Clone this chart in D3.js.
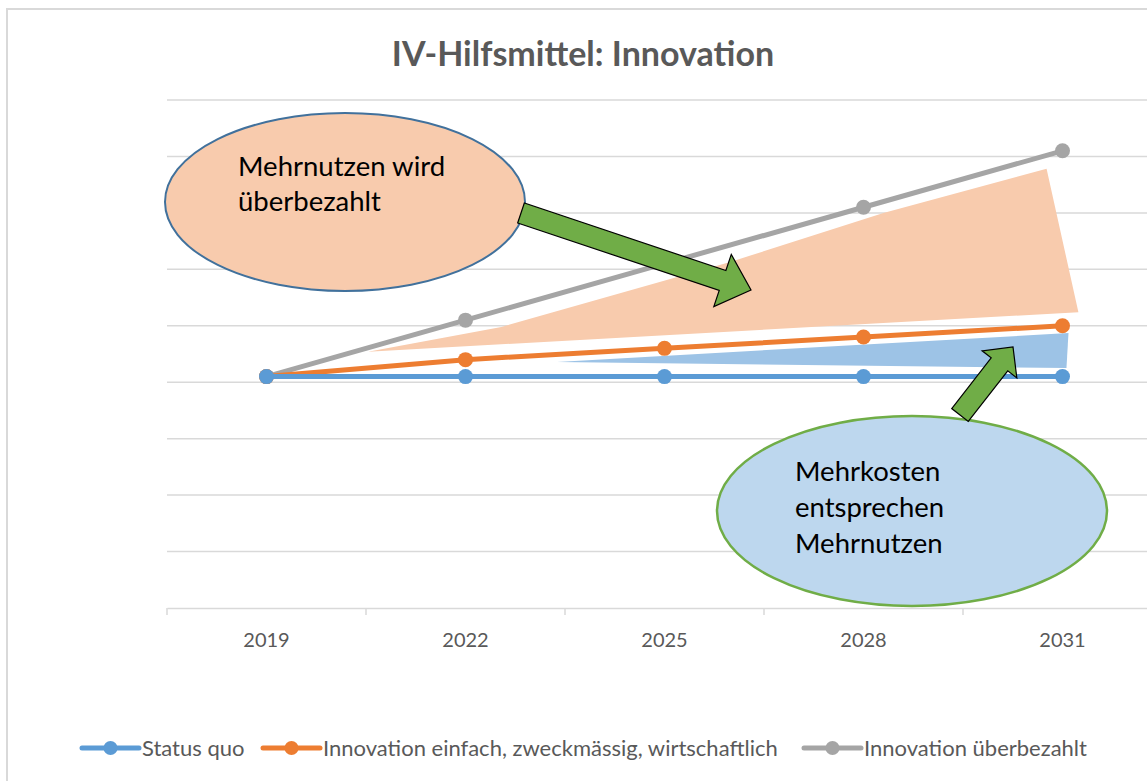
<!DOCTYPE html>
<html>
<head>
	<meta charset="utf-8">
	<title>IV-Hilfsmittel: Innovation</title>
	<script src="https://d3js.org/d3.v7.min.js"></script>
	<style>
		body { margin: 0; background: #fff; }
		svg { display: block; font-family: Lato, "Open Sans", sans-serif; }
	</style>
</head>
<body>
	<svg width="1147" height="781"></svg>
	<script>
		// data
		const years = ["2019", "2022", "2025", "2028", "2031"];
		const statusQuo = [41, 41, 41, 41, 41];
		const einfach = [41, 44, 46, 48, 50];
		const ueberbezahlt = [41, 51, 61, 71, 81];
		const seriesNames = ["Status quo", "Innovation einfach, zweckmässig, wirtschaftlich", "Innovation überbezahlt"];
		const yTicks = [0, 10, 20, 30, 40, 50, 60, 70, 80, 90];

		// shaded wedges, in (year index, value)
		const wedgeOverpaid = [[0.51, 45.4], [1.18, 49.8], [2.33, 61.3], [3.10, 70.0], [3.92, 77.8], [4.08, 52.4]];
		const wedgeFair = [[1.46, 43.6], [4.03, 48.7], [4.02, 42.5]];

		const colors = ["#5B9BD5", "#ED7D31", "#A5A5A5"];
		const values = [statusQuo, einfach, ueberbezahlt];

		const svg = d3.select('svg');
		const plotLeft = 167, plotRight = 1162, plotTop = 100, plotBottom = 608;

		// outer frame
		svg.append('rect')
			.attr('x', 7).attr('y', 9)
			.attr('width', 1300).attr('height', 900)
			.attr('fill', 'none').attr('stroke', '#D9D9D9').attr('stroke-width', 2);

		svg.append('text')
			.attr('x', 583).attr('y', 66)
			.attr('text-anchor', 'middle')
			.attr('font-size', 34).attr('font-weight', 'bold')
			.attr('fill', '#595959')
			.text('IV-Hilfsmittel: Innovation');

		const x = d3.scaleBand().domain(years).range([plotLeft, plotRight]).padding(0);
		const xi = d3.scaleLinear()
			.domain([0, years.length - 1])
			.range([x(years[0]) + x.bandwidth() / 2, x(years[years.length - 1]) + x.bandwidth() / 2]);
		const y = d3.scaleLinear().domain([0, 90]).range([plotBottom, plotTop]);

		// gridlines
		svg.append('g').selectAll('line')
			.data(yTicks.slice(1))
			.enter().append('line')
			.attr('x1', plotLeft).attr('x2', plotRight)
			.attr('y1', d => y(d)).attr('y2', d => y(d))
			.attr('stroke', '#D9D9D9').attr('stroke-width', 1.5);

		// x axis
		const xAxis = svg.append('g')
			.attr('transform', `translate(0,${plotBottom})`)
			.call(d3.axisBottom(x).tickSize(0).tickPadding(25));
		xAxis.select('.domain').attr('stroke', '#D9D9D9').attr('stroke-width', 1.5);
		xAxis.selectAll('text')
			.attr('font-family', 'Lato, sans-serif')
			.attr('font-size', 20).attr('fill', '#595959');
		xAxis.selectAll('.bound')
			.data(d3.range(years.length + 1))
			.enter().append('line')
			.attr('x1', i => plotLeft + i * x.bandwidth()).attr('x2', i => plotLeft + i * x.bandwidth())
			.attr('y1', 0).attr('y2', 7)
			.attr('stroke', '#D9D9D9').attr('stroke-width', 1.5);

		// shaded wedges
		const curve = d3.line().x(d => xi(d[0])).y(d => y(d[1])).curve(d3.curveLinearClosed);
		svg.append('path').attr('d', curve(wedgeOverpaid)).attr('fill', '#F8CBAD');
		svg.append('path').attr('d', curve(wedgeFair)).attr('fill', '#9DC3E6');

		// series lines
		const line = d3.line().x((d, i) => xi(i)).y(d => y(d));
		[2, 1, 0].forEach(s => {
			const g = svg.append('g');
			g.append('path')
				.attr('d', line(values[s]))
				.attr('fill', 'none')
				.attr('stroke', colors[s])
				.attr('stroke-width', 5)
				.attr('stroke-linecap', 'round');
			g.selectAll('circle')
				.data(values[s])
				.enter().append('circle')
				.attr('cx', (d, i) => xi(i))
				.attr('cy', d => y(d))
				.attr('r', 7.5)
				.attr('fill', colors[s]);
		});

		// block arrow helper
		function blockArrow(x1, y1, x2, y2, shaft, head, headLen) {
			const dx = x2 - x1, dy = y2 - y1, L = Math.hypot(dx, dy);
			const ux = dx / L, uy = dy / L, nx = -uy, ny = ux;
			const bx = x2 - ux * headLen, by = y2 - uy * headLen;
			const pts = [
				[x1 + nx * shaft / 2, y1 + ny * shaft / 2],
				[bx + nx * shaft / 2, by + ny * shaft / 2],
				[bx + nx * head / 2, by + ny * head / 2],
				[x2, y2],
				[bx - nx * head / 2, by - ny * head / 2],
				[bx - nx * shaft / 2, by - ny * shaft / 2],
				[x1 - nx * shaft / 2, y1 - ny * shaft / 2]
			];
			return 'M' + pts.map(p => p.join(',')).join('L') + 'Z';
		}

		// ellipse 1
		svg.append('ellipse')
			.attr('cx', 345).attr('cy', 202).attr('rx', 180).attr('ry', 89)
			.attr('fill', '#F8CBAD').attr('stroke', '#41719C').attr('stroke-width', 2);
		svg.append('text')
			.attr('font-size', 27.5).attr('fill', '#000')
			.selectAll('tspan').data(['Mehrnutzen wird', 'überbezahlt'])
			.enter().append('tspan')
			.attr('x', 238).attr('y', (d, i) => 176 + i * 35)
			.text(d => d);

		svg.append('path')
			.attr('d', blockArrow(521, 213, 751, 290, 21, 55, 30))
			.attr('fill', '#70AD47').attr('stroke', '#000').attr('stroke-width', 1.2);

		// ellipse 2
		svg.append('ellipse')
			.attr('cx', 912).attr('cy', 511).attr('rx', 195).attr('ry', 95)
			.attr('fill', '#BDD7EE').attr('stroke', '#70AD47').attr('stroke-width', 2.5);
		svg.append('text')
			.attr('font-size', 27.5).attr('fill', '#000')
			.selectAll('tspan').data(['Mehrkosten', 'entsprechen', 'Mehrnutzen'])
			.enter().append('tspan')
			.attr('x', 795).attr('y', (d, i) => 481 + i * 36)
			.text(d => d);

		svg.append('path')
			.attr('d', blockArrow(960, 415, 1013, 347, 21, 44, 22))
			.attr('fill', '#70AD47').attr('stroke', '#000').attr('stroke-width', 1.2);

		// legend
		const legendX = [82, 263, 804];
		const legend = svg.append('g').attr('transform', 'translate(0,748)');
		seriesNames.forEach((name, s) => {
			const g = legend.append('g').attr('transform', `translate(${legendX[s]},0)`);
			g.append('line').attr('x1', 0).attr('x2', 57).attr('y1', 0).attr('y2', 0)
				.attr('stroke', colors[s]).attr('stroke-width', 5).attr('stroke-linecap', 'round');
			g.append('circle').attr('cx', 28.5).attr('cy', 0).attr('r', 7).attr('fill', colors[s]);
			g.append('text').attr('x', 60).attr('y', 8)
				.attr('font-size', 22).attr('fill', '#595959')
				.text(name);
		});
	</script>
</body>
</html>
